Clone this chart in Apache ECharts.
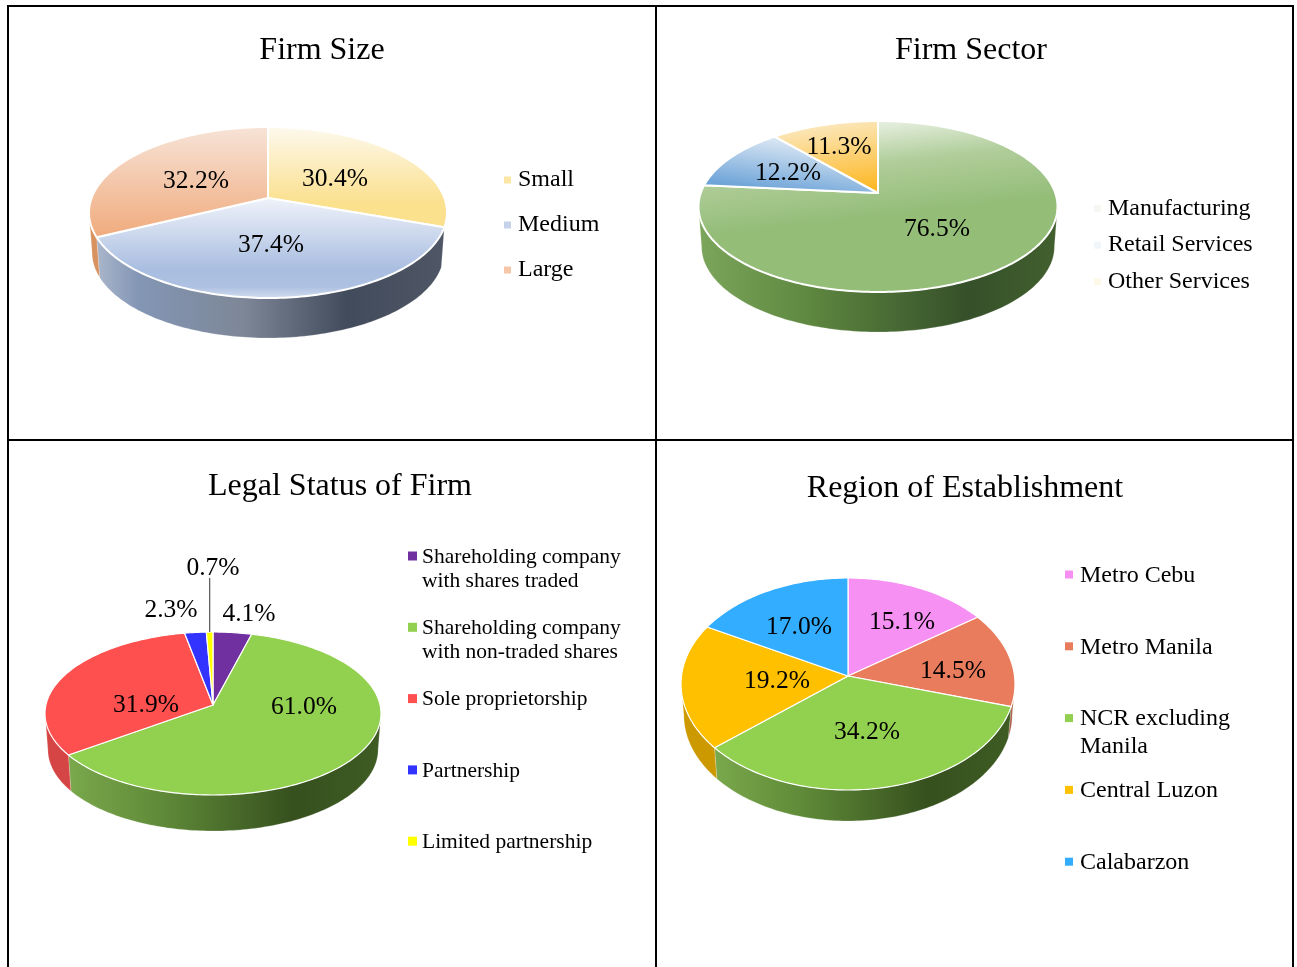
<!DOCTYPE html>
<html>
<head>
<meta charset="utf-8">
<style>html,body{margin:0;padding:0;background:#fff;overflow:hidden}#c{width:1297px;height:967px}</style>
<script src="https://cdn.jsdelivr.net/npm/echarts@6/dist/echarts.min.js"></script>
</head>
<body>
<div id="c"></div>
<script>
// ---- data ----
const sizeCategories = ['Small', 'Medium', 'Large'];
const sizeValues = [30.4, 37.4, 32.2];
const sectorCategories = ['Manufacturing', 'Retail Services', 'Other Services'];
const sectorValues = [76.5, 12.2, 11.3];
const legalCategories = ['Shareholding company\nwith shares traded', 'Shareholding company\nwith non-traded shares', 'Sole proprietorship', 'Partnership', 'Limited partnership'];
const legalValues = [4.1, 61.0, 31.9, 2.3, 0.7];
const regionCategories = ['Metro Cebu', 'Metro Manila', 'NCR excluding\nManila', 'Central Luzon', 'Calabarzon'];
const regionValues = [15.1, 14.5, 34.2, 19.2, 17.0];

// ---- look and layout ----
const FONT = '"Liberation Serif","Times New Roman",serif';
const grad = (stops, x = 0, y = 0, x2 = 0, y2 = 1) => ({
  type: 'linear', x, y, x2, y2,
  colorStops: stops.map(s => ({ offset: s[0], color: s[1] }))
});
const hGreen = grad([[0,'#7aa84c'],[.3,'#5f8a38'],[.72,'#36501e'],[1,'#3f5c24']], 0, 0, 1, 0);

const pies = [
  { title: 'Firm Size', titleX: 322, titleY: 51, names: sizeCategories, values: sizeValues,
    hub: [268, 198], top: 127, bottom: 298, left: 89, right: 447, depth: 40, stroke: 2,
    tops: [
      grad([[0,'#fdf9ee'],[.75,'#fbe08e'],[1,'#fbe08e']]),
      grad([[0,'#f0f3fa'],[.72,'#a8bde0'],[.88,'#aec1e2'],[1,'#d3deef']]),
      grad([[0,'#f7e4d8'],[1,'#f0aa7c']])
    ],
    sides: [null,
      grad([[0,'#aab6ca'],[.12,'#8396b5'],[.42,'#7d8797'],[.72,'#424b5b'],[1,'#4f5766']], 0, 0, 1, 0),
      '#d8925f'],
    marks: ['#fbe6a6', '#c5d2e9', '#f5c7a8'],
    labels: [[335,179.5],[271,245.5],[196,181.5]], labelSize: 25.5,
    legend: { left: 504, firstY: 180, step: 45, size: 7, gap: 7, font: 24, line: 24, rows: 1 } },
  { title: 'Firm Sector', titleX: 971, titleY: 51, names: sectorCategories, values: sectorValues,
    hub: [878, 193], top: 121, bottom: 292, left: 699, right: 1058, depth: 40, stroke: 2,
    tops: [
      grad([[0,'#e9f1e3'],[.45,'#b0cd9a'],[1,'#94bd78']], .5, 0, .53, .55),
      grad([[0,'#e8eff7'],[1,'#6ea4d8']], .55, 0, .5, 1),
      grad([[0,'#fbeac4'],[1,'#fdb825']], .45, 0, .55, 1)
    ],
    sides: [grad([[0,'#7ca65c'],[.3,'#5f8840'],[.75,'#35502a'],[1,'#42602e']], 0, 0, 1, 0), null, null],
    marks: ['#f5f8f2', '#f1f6fb', '#fdf8e8'],
    labels: [[937,229.5],[788,173],[839,147]], labelSize: 25.5,
    legend: { left: 1094, firstY: 208.5, step: 36.6, size: 7, gap: 7, font: 24, line: 24, rows: 1 } },
  { title: 'Legal Status of Firm', titleX: 340, titleY: 487, names: legalCategories, values: legalValues,
    hub: [213, 705], top: 632, bottom: 795, left: 45, right: 381, depth: 36, stroke: 1.2,
    tops: ['#7030a0', '#92d050', '#ff5050', '#3333ff', '#ffff00'],
    sides: ['#5a2680', hGreen, '#d64545', '#2828c8', '#cccc00'],
    marks: ['#7030a0', '#92d050', '#ff5050', '#3333ff', '#ffff00'],
    labels: [[249,614.5],[304,707.5],[146,705.5],[171,610.5],[213,568.5]], labelSize: 25.5,
    leader: { index: 4, toY: 578 },
    legend: { left: 408, firstY: 557, step: 71.3, size: 9, gap: 5, font: 21.5, line: 24, rows: 2 } },
  { title: 'Region of Establishment', titleX: 965, titleY: 489, names: regionCategories, values: regionValues,
    hub: [848, 676], top: 578, bottom: 790, left: 681, right: 1015, depth: 31, stroke: 1.2,
    tops: ['#f790f3', '#e97c5c', '#92d050', '#ffc000', '#33adff'],
    sides: ['#c070c0', '#a85c42', hGreen, '#cc9a00', '#2a8acc'],
    marks: ['#f790f3', '#e97c5c', '#92d050', '#ffc000', '#33adff'],
    labels: [[902,622],[953,671],[867,732],[777,681],[799,627]], labelSize: 25.5,
    legend: { left: 1065, firstY: 575.5, step: 71.8, size: 8, gap: 7, font: 24, line: 28, rows: 2 } }
];
const SIDE_TAPER = 0.983;
const ICON_LIFT = 1;

// Projective view of a tilted circle: the hub sits above the rim ellipse's centre.
function projection(p) {
  const T = p.hub[1] - p.top, B = p.bottom - p.hub[1];
  const k = (B - T) / (B + T);
  const b = T * (1 + k);
  const a = (p.right - p.left) / 2 * Math.sqrt(1 - k * k);
  const cx = p.hub[0], hy = p.hub[1];
  return {
    k,
    pt(theta) {
      const u = Math.sin(theta), v = -Math.cos(theta), w = 1 - k * v;
      return [cx + a * u / w, hy + b * v / w];
    },
    low(theta) {
      const q = this.pt(theta);
      return [cx + (q[0] - cx) * SIDE_TAPER, q[1] + p.depth];
    }
  };
}

function arc(fn, from, to) {
  const n = Math.max(2, Math.ceil((to - from) / 0.02));
  const out = [];
  for (let i = 0; i <= n; i++) out.push(fn(from + (to - from) * i / n));
  return out;
}

function sliceSeries(p, i, start) {
  const proj = projection(p);
  const front0 = Math.acos(-proj.k), front1 = 2 * Math.PI - front0;
  return {
    type: 'custom', name: p.names[i], coordinateSystem: 'none', silent: true, animation: false,
    itemStyle: { color: p.marks[i] },
    data: [[p.values[i], start]],
    renderItem(params, api) {
      const value = api.value(0), from = api.value(1);
      const t0 = from / 100 * 2 * Math.PI, t1 = (from + value) / 100 * 2 * Math.PI;
      const children = [];
      const s0 = Math.max(t0, front0), s1 = Math.min(t1, front1);
      if (s1 > s0 && p.sides[i]) {
        const upper = arc(t => proj.pt(t), s0, s1);
        const lower = arc(t => proj.low(t), s0, s1).reverse();
        children.push({ type: 'polygon', z2: 1, shape: { points: upper.concat(lower) },
          style: { fill: p.sides[i], stroke: 'rgba(255,255,255,0.35)', lineWidth: 0.6 } });
      }
      children.push({ type: 'polygon', z2: 5,
        shape: { points: [p.hub].concat(arc(t => proj.pt(t), t0, t1)) },
        style: { fill: p.tops[i], stroke: '#fff', lineWidth: p.stroke, lineJoin: 'round' } });
      if (p.leader && p.leader.index === i) {
        const m = proj.pt((t0 + t1) / 2);
        children.push({ type: 'line', z2: 6, shape: { x1: m[0], y1: m[1], x2: m[0], y2: p.leader.toY },
          style: { stroke: '#555', lineWidth: 1.2 } });
      }
      children.push({ type: 'text', z2: 10, style: {
        x: p.labels[i][0], y: p.labels[i][1], text: value.toFixed(1) + '%',
        font: p.labelSize + 'px ' + FONT, fill: '#000', align: 'center', verticalAlign: 'middle' } });
      return { type: 'group', children };
    }
  };
}

const series = [];
pies.forEach(p => {
  let run = 0;
  p.values.forEach((v, i) => { series.push(sliceSeries(p, i, run)); run += v; });
});

const legends = pies.map(p => {
  const L = p.legend, h = L.line * L.rows;
  const icon = L.rows === 1
    ? 'rect'
    : 'path://M0 ' + (L.line / 2 - L.size / 2 - ICON_LIFT) + 'h' + L.size + 'v' + L.size + 'h-' + L.size + 'zM0 0h0M0 ' + h + 'h0';
  return {
    orient: 'vertical', left: L.left, top: L.firstY - L.line / 2, padding: 0,
    align: 'left', itemWidth: L.size, itemHeight: L.rows === 1 ? L.size : h,
    itemGap: L.step - h, selectedMode: false,
    formatter: n => (L.rows === 2 && n.indexOf('\n') < 0) ? n + '\n ' : n,
    textStyle: { fontFamily: FONT, fontSize: L.font, lineHeight: L.line, color: '#000', padding: [0, 0, 0, L.gap - 5] },
    data: p.names.map((n, i) => ({ name: n, icon, itemStyle: { color: p.marks[i] } }))
  };
});

const titles = pies.map(p => ({
  text: p.title, left: p.titleX, top: p.titleY, textAlign: 'center', textVerticalAlign: 'middle', padding: 0,
  textStyle: { fontFamily: FONT, fontSize: 32, fontWeight: 'normal', color: '#000' }
}));

const FRAME = { left: 8, top: 6, right: 1293, midX: 656, midY: 440, end: 967 };
const frameLine = (x1, y1, x2, y2) => ({ type: 'line', shape: { x1, y1, x2, y2 }, style: { stroke: '#000', lineWidth: 2 }, silent: true });
const graphic = [
  frameLine(FRAME.left, FRAME.top, FRAME.right, FRAME.top),
  frameLine(FRAME.left, FRAME.top - 1, FRAME.left, FRAME.end),
  frameLine(FRAME.right, FRAME.top - 1, FRAME.right, FRAME.end),
  frameLine(FRAME.midX, FRAME.top, FRAME.midX, FRAME.end),
  frameLine(FRAME.left, FRAME.midY, FRAME.right, FRAME.midY)
];

const chart = echarts.init(document.getElementById('c'));
chart.setOption({ animation: false, backgroundColor: '#fff', title: titles, legend: legends, series, graphic });
</script>
</body>
</html>
